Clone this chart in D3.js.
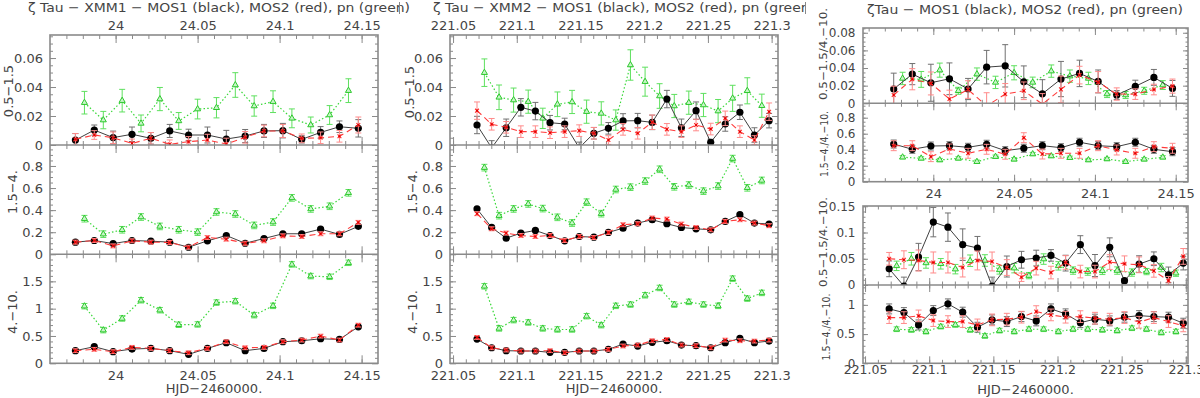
<!DOCTYPE html>
<html>
<head>
<meta charset="utf-8">
<script src="https://cdn.jsdelivr.net/npm/d3@7"></script>
<style>
  body { margin: 0; background: #fff; }
  svg text { font-family: "DejaVu Sans", sans-serif; fill: #444; }
</style>
</head>
<body>
<svg id="chart" width="1200" height="398"></svg>
<script>
// ---- times (HJD - 2460000) ----
const t1 = [23.9755, 23.987, 23.9985, 24.01, 24.0215, 24.033, 24.0445, 24.056, 24.0675, 24.079, 24.0905, 24.102, 24.1135, 24.125, 24.1365, 24.148];
const t1pn = [23.981, 23.9925, 24.004, 24.0155, 24.027, 24.0385, 24.05, 24.0615, 24.073, 24.0845, 24.096, 24.1075, 24.119, 24.1305, 24.142];
const t2 = [221.0688, 221.0803, 221.0917, 221.1032, 221.1146, 221.1261, 221.1376, 221.149, 221.1605, 221.1719, 221.1834, 221.1949, 221.2063, 221.2178, 221.2292, 221.2407, 221.2522, 221.2636, 221.2751, 221.2865, 221.298];
const t2pn = [221.0746, 221.0861, 221.0975, 221.109, 221.1204, 221.1319, 221.1434, 221.1548, 221.1663, 221.1777, 221.1892, 221.2007, 221.2121, 221.2236, 221.235, 221.2465, 221.258, 221.2694, 221.2809, 221.2923];

// ---- XMM1 count rates ----
const xmm1_soft_mos1 = [0.0034, 0.0103, 0.0051, 0.0074, 0.0046, 0.0097, 0.0069, 0.0069, 0.0041, 0.0062, 0.0097, 0.0099, 0.0039, 0.0087, 0.0126, 0.0115];
const xmm1_soft_mos1_err = [0.0045, 0.0035, 0.0045, 0.005, 0.004, 0.0045, 0.004, 0.0055, 0.006, 0.0045, 0.0045, 0.005, 0.0025, 0.004, 0.004, 0.006];
const xmm1_soft_mos2 = [0.0039, 0.0069, 0.005, 0.0011, 0.0046, 0.0005, 0.0023, 0.0034, 0.0007, 0.0053, 0.0097, 0.0097, 0.0046, 0.005, 0.006, 0.0138];
const xmm1_soft_mos2_err = [0.004, 0.003, 0.004, 0.003, 0.004, 0.003, 0.0035, 0.004, 0.004, 0.004, 0.004, 0.0045, 0.003, 0.004, 0.004, 0.0055];
const xmm1_soft_pn = [0.0292, 0.0172, 0.0306, 0.0149, 0.0317, 0.0166, 0.0248, 0.0257, 0.0414, 0.0269, 0.0299, 0.0184, 0.0138, 0.0207, 0.0375];
const xmm1_soft_pn_err = [0.0078, 0.006, 0.0078, 0.0058, 0.008, 0.0058, 0.0068, 0.007, 0.0085, 0.007, 0.0075, 0.0065, 0.0055, 0.0065, 0.0082];

const xmm1_med_mos1 = [0.11, 0.125, 0.097, 0.125, 0.119, 0.11, 0.064, 0.122, 0.17, 0.1, 0.143, 0.186, 0.186, 0.228, 0.18, 0.253];
const xmm1_med_mos2 = [0.11, 0.125, 0.076, 0.122, 0.11, 0.107, 0.064, 0.152, 0.137, 0.1, 0.122, 0.167, 0.161, 0.186, 0.186, 0.289];
const xmm1_med_pn = [0.3225, 0.1825, 0.2221, 0.3377, 0.2525, 0.2221, 0.2008, 0.3833, 0.365, 0.2616, 0.292, 0.511, 0.4107, 0.435, 0.5567];

const xmm1_hard_mos1 = [0.231, 0.304, 0.213, 0.261, 0.273, 0.231, 0.164, 0.273, 0.377, 0.231, 0.273, 0.395, 0.413, 0.449, 0.437, 0.668];
const xmm1_hard_mos2 = [0.231, 0.255, 0.213, 0.292, 0.273, 0.231, 0.194, 0.273, 0.395, 0.285, 0.292, 0.395, 0.425, 0.498, 0.425, 0.698];
const xmm1_hard_pn = [1.045, 0.607, 0.82, 1.154, 0.972, 0.705, 0.711, 1.111, 1.136, 0.881, 1.051, 1.81, 1.596, 1.583, 1.839];

// ---- XMM1 hardness ratios ----
const xmm1_r1_mos1 = [0.0162, 0.0331, 0.0233, 0.0278, 0.0162, 0.041, 0.0425, 0.0244, 0.0108, 0.0275, 0.0339, 0.0248, 0.0094, 0.0192, 0.0294, 0.0169];
const xmm1_r1_mos1_err = [0.018, 0.012, 0.021, 0.018, 0.012, 0.019, 0.024, 0.018, 0.016, 0.02, 0.015, 0.013, 0.005, 0.007, 0.009, 0.009];
const xmm1_r1_mos2 = [0.0094, 0.0273, 0.0225, 0.0049, 0.0156, -0.003, 0.0104, 0.0142, -0.001, 0.0158, 0.032, 0.024, 0.0105, 0.0104, 0.0156, 0.0195];
const xmm1_r1_mos2_err = [0.01, 0.012, 0.013, 0.01, 0.01, 0.015, 0.012, 0.01, 0.012, 0.015, 0.01, 0.012, 0.007, 0.006, 0.006, 0.008];
const xmm1_r1_pn = [0.0282, 0.0271, 0.0376, 0.0142, 0.0331, 0.0237, 0.0346, 0.0237, 0.0365, 0.0308, 0.0282, 0.0105, 0.0094, 0.0142, 0.0207];
const xmm1_r1_pn_err = [0.007, 0.009, 0.008, 0.004, 0.007, 0.007, 0.008, 0.006, 0.007, 0.007, 0.007, 0.004, 0.004, 0.004, 0.005];

const xmm1_r2_mos1 = [0.471, 0.405, 0.446, 0.45, 0.43, 0.468, 0.388, 0.418, 0.45, 0.425, 0.493, 0.45, 0.438, 0.493, 0.405, 0.375];
const xmm1_r2_mos2 = [0.45, 0.45, 0.313, 0.409, 0.355, 0.405, 0.343, 0.55, 0.346, 0.355, 0.355, 0.45, 0.396, 0.355, 0.438, 0.418];
const xmm1_r2_pn = [0.306, 0.292, 0.271, 0.292, 0.25, 0.313, 0.28, 0.346, 0.321, 0.3, 0.271, 0.284, 0.25, 0.28, 0.305];

// ---- XMM2 count rates ----
const xmm2_soft_mos1 = [0.0138, -0.002, 0.0119, 0.026, 0.0234, 0.0154, 0.0145, -0.002, 0.0081, 0.0115, 0.0166, 0.0168, 0.0156, 0.0317, 0.0119, 0.0237, 0.0019, 0.0145, 0.0226, 0.0069, 0.0168];
const xmm2_soft_mos1_err = [0.006, 0.005, 0.006, 0.006, 0.006, 0.005, 0.004, 0.004, 0.004, 0.004, 0.005, 0.005, 0.005, 0.006, 0.006, 0.006, 0.002, 0.005, 0.005, 0.005, 0.005];
const xmm2_soft_mos2 = [0.0237, 0.0143, 0.0122, 0.0092, 0.0092, 0.0085, 0.0092, 0.0099, 0.0081, 0.0034, 0.0108, 0.0081, 0.0157, 0.0108, 0.0092, 0.0138, 0.011, 0.0184, 0.0092, 0.0034, 0.023];
const xmm2_soft_mos2_err = [0.006, 0.004, 0.004, 0.004, 0.004, 0.004, 0.004, 0.004, 0.004, 0.003, 0.004, 0.004, 0.005, 0.004, 0.004, 0.004, 0.004, 0.005, 0.004, 0.003, 0.006];
const xmm2_soft_pn = [0.0499, 0.0329, 0.031, 0.0299, 0.0184, 0.0281, 0.0297, 0.023, 0.0218, 0.0172, 0.0552, 0.0437, 0.0338, 0.0269, 0.0292, 0.0276, 0.0234, 0.0322, 0.0374, 0.0271];
const xmm2_soft_pn_err = [0.0095, 0.0085, 0.0083, 0.008, 0.007, 0.0085, 0.008, 0.008, 0.008, 0.007, 0.0105, 0.01, 0.0085, 0.008, 0.008, 0.008, 0.008, 0.009, 0.009, 0.008];

const xmm2_med_mos1 = [0.411, 0.243, 0.146, 0.192, 0.216, 0.17, 0.122, 0.161, 0.155, 0.198, 0.237, 0.283, 0.313, 0.277, 0.243, 0.231, 0.222, 0.298, 0.359, 0.283, 0.274];
const xmm2_med_mos2 = [0.368, 0.231, 0.192, 0.17, 0.161, 0.17, 0.125, 0.161, 0.152, 0.198, 0.268, 0.277, 0.329, 0.319, 0.274, 0.243, 0.222, 0.298, 0.313, 0.283, 0.259];
const xmm2_med_pn = [0.785, 0.35, 0.411, 0.456, 0.414, 0.335, 0.283, 0.472, 0.368, 0.587, 0.608, 0.663, 0.77, 0.611, 0.627, 0.572, 0.618, 0.867, 0.602, 0.669];

const xmm2_hard_mos1 = [0.443, 0.285, 0.231, 0.225, 0.225, 0.2, 0.2, 0.225, 0.225, 0.255, 0.352, 0.316, 0.383, 0.413, 0.334, 0.322, 0.285, 0.377, 0.456, 0.377, 0.407];
const xmm2_hard_mos2 = [0.474, 0.285, 0.243, 0.225, 0.225, 0.231, 0.194, 0.225, 0.225, 0.255, 0.316, 0.334, 0.413, 0.437, 0.334, 0.322, 0.285, 0.425, 0.413, 0.407, 0.425];
const xmm2_hard_pn = [1.409, 0.638, 0.79, 0.747, 0.638, 0.619, 0.619, 0.862, 0.698, 1.051, 1.075, 1.245, 1.379, 1.075, 1.124, 1.075, 1.051, 1.549, 1.184, 1.288];

// ---- XMM2 hardness ratios ----
const xmm2_r1_mos1 = [0.0308, -0.002, 0.0533, 0.1198, 0.1102, 0.0769, 0.0705, -0.002, 0.0352, 0.0481, 0.0513, 0.0564, 0.0417, 0.0769, 0.0371, 0.0718, 0.0083, 0.0397, 0.05, 0.0192, 0.0417];
const xmm2_r1_mos1_err = [0.015, 0.017, 0.026, 0.028, 0.027, 0.03, 0.022, 0.017, 0.02, 0.016, 0.015, 0.011, 0.015, 0.017, 0.021, 0.018, 0.004, 0.016, 0.013, 0.015, 0.013];
const xmm2_r1_mos2 = [0.05, 0.0481, 0.0467, 0.0429, 0.0429, 0.0333, 0.0467, 0.0448, 0.0333, 0.0148, 0.0321, 0.0237, 0.0429, 0.0256, 0.0256, 0.0437, 0.0404, 0.0385, 0.0269, 0.0083, 0.0545];
const xmm2_r1_mos2_err = [0.012, 0.017, 0.02, 0.02, 0.02, 0.018, 0.018, 0.018, 0.015, 0.008, 0.013, 0.012, 0.013, 0.012, 0.012, 0.014, 0.015, 0.015, 0.012, 0.008, 0.015];
const xmm2_r1_pn = [0.0365, 0.05, 0.042, 0.0404, 0.0302, 0.0462, 0.0467, 0.0288, 0.0321, 0.0179, 0.0494, 0.0365, 0.0275, 0.0256, 0.0269, 0.0275, 0.0237, 0.0256, 0.0333, 0.0225];
const xmm2_r1_pn_err = [0.009, 0.012, 0.01, 0.01, 0.009, 0.011, 0.011, 0.008, 0.009, 0.006, 0.01, 0.008, 0.007, 0.007, 0.007, 0.007, 0.007, 0.006, 0.008, 0.006];

const xmm2_r2_mos1 = [0.931, 0.868, 0.657, 0.902, 1.017, 0.875, 0.617, 0.743, 0.714, 0.799, 0.726, 0.931, 0.846, 0.696, 0.755, 0.726, 0.789, 0.816, 0.799, 0.789, 0.686];
const xmm2_r2_mos2 = [0.782, 0.782, 0.811, 0.731, 0.714, 0.714, 0.657, 0.743, 0.755, 0.789, 0.885, 0.828, 0.789, 0.799, 0.772, 0.755, 0.782, 0.703, 0.782, 0.714, 0.64];
const xmm2_r2_pn = [0.583, 0.571, 0.542, 0.628, 0.657, 0.571, 0.468, 0.559, 0.542, 0.583, 0.583, 0.542, 0.583, 0.583, 0.571, 0.559, 0.6, 0.583, 0.525, 0.542];

// typical error sizes where they hardly change (mos1, mos2, pn)
const errMed = [0.01, 0.018, 0.03];
const errHard = [0.02, 0.035, 0.05];
const errR2_1 = [0.05, 0.062, 0.02];
const errR2_2 = [0.085, 0.1, 0.04];

// ---- tick labels ----
const xTicks1 = [24, 24.05, 24.1, 24.15];
const xTicks2 = [221.05, 221.1, 221.15, 221.2, 221.25, 221.3];
const yTicksSoft = [0, 0.02, 0.04, 0.06, 0.08];
const yTicksMed = [0, 0.2, 0.4, 0.6, 0.8];
const yTicksHard = [0, 0.5, 1, 1.5];
const yTicksR1b = [0, 0.05, 0.1, 0.15];
const yTicksR2b = [0, 0.5, 1];

const titles = [
  "ζ Tau − XMM1 − MOS1 (black), MOS2 (red), pn (green)",
  "ζ Tau − XMM2 − MOS1 (black), MOS2 (red), pn (green)",
  "ζTau − MOS1 (black), MOS2 (red), pn (green)"
];
const xTitle = "HJD−2460000.";

// ---------------------------------------------------------------
const svg = d3.select("#chart");
const defs = svg.append("defs");
const fmt = d3.format("~f");
let clipN = 0;

function clip(x, y, w, h) {
  const id = "clip" + (clipN++);
  defs.append("clipPath").attr("id", id)
    .append("rect").attr("x", x).attr("y", y).attr("width", w).attr("height", h);
  return `url(#${id})`;
}

function minorTicks(dom, step) {
  return d3.range(Math.ceil(dom[0] / step - 1e-6), Math.floor(dom[1] / step + 1e-6) + 1)
    .map(i => +(i * step).toFixed(6))
    .filter(v => v > dom[0] + 1e-9 && v < dom[1] - 1e-9);
}

function axisGroup(parent, gen, tx, ty, fs, pad, labels) {
  const g = parent.append("g").attr("transform", `translate(${tx},${ty})`)
    .call(gen.tickSizeOuter(0).tickPadding(pad || 3).tickFormat(labels ? fmt : ""));
  g.select(".domain").remove();
  g.attr("font-family", null).attr("font-size", fs).attr("color", "#8a8a8a");
  g.selectAll("line").attr("stroke-width", 1);
  g.selectAll("text").attr("fill", "#444");
  return g;
}

const styles = {
  m1: { line: "#404040", dash: null, err: "#707070", lw: 1 },
  m2: { line: "#ff3b3b", dash: "6,4", err: "#ff8a8a", lw: 1.1 },
  pn: { line: "#3ad83a", dash: "1.5,2.2", err: "#5ee05e", lw: 1.2 }
};

function drawSeries(g, xs, ys, s, clipUrl) {
  const [t, v, e, kind] = s;
  const st = styles[kind];
  const pts = t.map((d, i) => ({ x: d, y: v[i], e: Array.isArray(e) ? e[i] : e }));
  const cg = g.append("g").attr("clip-path", clipUrl);
  const eb = cg.append("g").attr("stroke", st.err).attr("stroke-width", 1);
  pts.forEach(p => {
    const x = xs(p.x), ya = ys(p.y + p.e), yb = ys(p.y - p.e);
    eb.append("line").attr("x1", x).attr("x2", x).attr("y1", ya).attr("y2", yb);
    eb.append("line").attr("x1", x - 3).attr("x2", x + 3).attr("y1", ya).attr("y2", ya);
    eb.append("line").attr("x1", x - 3).attr("x2", x + 3).attr("y1", yb).attr("y2", yb);
  });
  cg.append("path").datum(pts)
    .attr("fill", "none").attr("stroke", st.line).attr("stroke-width", st.lw)
    .attr("stroke-dasharray", st.dash)
    .attr("d", d3.line().x(p => xs(p.x)).y(p => ys(p.y)));
  const mk = cg.selectAll("g.mk").data(pts).join("g")
    .attr("transform", p => `translate(${xs(p.x)},${ys(p.y)})`);
  if (kind === "m1") {
    mk.append("circle").attr("r", 3.6).attr("fill", "#000");
  } else if (kind === "m2") {
    mk.append("path").attr("d", "M-1.9,-1.9L1.9,1.9M-1.9,1.9L1.9,-1.9")
      .attr("stroke", "#ff2a2a").attr("stroke-width", 1.1);
    mk.append("circle").attr("r", 1.1).attr("fill", "#e00000");
  } else {
    mk.append("path").attr("d", d3.symbol(d3.symbolTriangle, 16)())
      .attr("fill", "#c8f5c8").attr("stroke", "#2cc82c").attr("stroke-width", 1);
  }
}

function drawColumn(col) {
  const xs = d3.scaleLinear().domain(col.xDom).range([col.x0, col.x1]);
  const xMinor = minorTicks(col.xDom, 0.01);
  const top = col.subs[0].y0, bot = col.subs[col.subs.length - 1].y1;
  const g = svg.append("g");

  col.subs.forEach((sub, k) => {
    const ys = d3.scaleLinear().domain(sub.yDom).range([sub.y1, sub.y0]);
    const yMinor = minorTicks(sub.yDom, sub.yMinor);
    const yMaj = sub.yMajor.filter(v => v <= sub.yDom[1] + 1e-9);
    const yLab = yMaj.filter(v => v < sub.yDom[1] - 1e-9 || sub.topLabel);
    const ax = g.append("g");
    // x ticks on top and bottom edge of every sub panel
    axisGroup(ax, d3.axisBottom(xs).tickValues(xMinor).tickSize(-col.tm), 0, sub.y1, col.xfs);
    axisGroup(ax, d3.axisTop(xs).tickValues(xMinor).tickSize(-col.tm), 0, sub.y0, col.xfs);
    const lastSub = k === col.subs.length - 1;
    axisGroup(ax, d3.axisBottom(xs).tickValues(col.xMajor).tickSize(-col.tM), 0, sub.y1, col.xfs,
      col.botPad, lastSub);
    axisGroup(ax, d3.axisTop(xs).tickValues(col.xMajor).tickSize(-col.tM), 0, sub.y0, col.xfs,
      col.topPad, k === 0 && col.topPad != null);
    // y ticks left and right
    axisGroup(ax, d3.axisLeft(ys).tickValues(yMinor).tickSize(-col.ym), col.x0, 0, col.yfs);
    axisGroup(ax, d3.axisRight(ys).tickValues(yMinor).tickSize(-col.ym), col.x1, 0, col.yfs);
    axisGroup(ax, d3.axisLeft(ys).tickValues(yMaj).tickSize(-col.yM), col.x0, 0, col.yfs);
    axisGroup(ax, d3.axisRight(ys).tickValues(yMaj).tickSize(-col.yM), col.x1, 0, col.yfs);
    axisGroup(ax, d3.axisLeft(ys).tickValues(yLab).tickSize(0), col.x0, 0, col.yfs, col.yPad, true);

    // y title
    const lt = g.append("text")
      .attr("transform", `translate(${sub.lx},${sub.ly}) rotate(-90)`)
      .attr("text-anchor", "middle").attr("font-size", sub.lfs).text(sub.label);
    if (sub.llen) lt.attr("textLength", sub.llen).attr("lengthAdjust", "spacingAndGlyphs");

    const cu = clip(col.x0, sub.y0, col.x1 - col.x0, sub.y1 - sub.y0);
    sub.series.forEach(s => drawSeries(g, xs, ys, s, cu));
  });

  // frame
  g.append("rect").attr("x", col.x0).attr("y", top)
    .attr("width", col.x1 - col.x0).attr("height", bot - top)
    .attr("fill", "none").attr("stroke", "#8a8a8a").attr("stroke-width", 1.6);
  col.subs.slice(1).forEach(sub => {
    g.append("line").attr("x1", col.x0).attr("x2", col.x1).attr("y1", sub.y0).attr("y2", sub.y0)
      .attr("stroke", "#8a8a8a").attr("stroke-width", 1.6);
  });
}

function drawTitle(text, x, y, len, clipW) {
  const cu = clipW ? clip(x - 20, 0, clipW, 20) : null;
  svg.append("text").attr("x", x).attr("y", y).attr("font-size", 13)
    .attr("textLength", len).attr("lengthAdjust", "spacingAndGlyphs")
    .attr("clip-path", cu).text(text);
}

// ---- layout ----
const leftCol = {
  x0: 50, x1: 378, xDom: [23.96, 24.16], xMajor: xTicks1, tM: 8, tm: 4, yM: 6, ym: 3,
  xfs: 13, yfs: 13, topPad: 5, botPad: 7.5, yPad: 7,
  subs: [
    { y0: 35, y1: 145, yDom: [0, 0.0759], yMajor: yTicksSoft, yMinor: 0.005, label: "0.5−1.5", lx: 12.5, ly: 91, lfs: 13,
      series: [[t1pn, xmm1_soft_pn, xmm1_soft_pn_err, "pn"], [t1, xmm1_soft_mos1, xmm1_soft_mos1_err, "m1"], [t1, xmm1_soft_mos2, xmm1_soft_mos2_err, "m2"]] },
    { y0: 145, y1: 254.3, yDom: [0, 0.99], yMajor: yTicksMed, yMinor: 0.05, label: "1.5−4.", lx: 16.5, ly: 192, lfs: 13,
      series: [[t1pn, xmm1_med_pn, errMed[2], "pn"], [t1, xmm1_med_mos1, errMed[0], "m1"], [t1, xmm1_med_mos2, errMed[1], "m2"]] },
    { y0: 254.3, y1: 363.3, yDom: [0, 1.995], yMajor: yTicksHard, yMinor: 0.1, label: "4.−10.", lx: 17, ly: 312, lfs: 13,
      series: [[t1pn, xmm1_hard_pn, errHard[2], "pn"], [t1, xmm1_hard_mos1, errHard[0], "m1"], [t1, xmm1_hard_mos2, errHard[1], "m2"]] }
  ]
};

const midCol = {
  x0: 450, x1: 778, xDom: [221.0476, 221.305], xMajor: xTicks2, tM: 8, tm: 4, yM: 6, ym: 3,
  xfs: 13, yfs: 13, topPad: 5, botPad: 7.5, yPad: 7,
  subs: [
    { y0: 35, y1: 145, yDom: [0, 0.0759], yMajor: yTicksSoft, yMinor: 0.005, label: "0.5−1.5", lx: 413.5, ly: 92, lfs: 13,
      series: [[t2pn, xmm2_soft_pn, xmm2_soft_pn_err, "pn"], [t2, xmm2_soft_mos1, xmm2_soft_mos1_err, "m1"], [t2, xmm2_soft_mos2, xmm2_soft_mos2_err, "m2"]] },
    { y0: 145, y1: 254.3, yDom: [0, 0.99], yMajor: yTicksMed, yMinor: 0.05, label: "1.5−4.", lx: 416.5, ly: 192, lfs: 13,
      series: [[t2pn, xmm2_med_pn, errMed[2], "pn"], [t2, xmm2_med_mos1, errMed[0], "m1"], [t2, xmm2_med_mos2, errMed[1], "m2"]] },
    { y0: 254.3, y1: 363.3, yDom: [0, 1.995], yMajor: yTicksHard, yMinor: 0.1, label: "4.−10.", lx: 417, ly: 312, lfs: 13,
      series: [[t2pn, xmm2_hard_pn, errHard[2], "pn"], [t2, xmm2_hard_mos1, errHard[0], "m1"], [t2, xmm2_hard_mos2, errHard[1], "m2"]] }
  ]
};

const rightTop = {
  x0: 863, x1: 1188, xDom: [23.9565, 24.1576], xMajor: xTicks1, tM: 7, tm: 3.5, yM: 5, ym: 2.5,
  xfs: 13, yfs: 12, topPad: null, botPad: 7, yPad: 7.5,
  subs: [
    { y0: 28, y1: 103.3, yDom: [0, 0.0854], yMajor: yTicksSoft, yMinor: 0.005, label: "0.5−1.5/4.−10.", lx: 827, ly: 54, lfs: 11, llen: 92,
      series: [[t1pn, xmm1_r1_pn, xmm1_r1_pn_err, "pn"], [t1, xmm1_r1_mos1, xmm1_r1_mos1_err, "m1"], [t1, xmm1_r1_mos2, xmm1_r1_mos2_err, "m2"]] },
    { y0: 103.3, y1: 181.7, yDom: [0, 0.98], yMajor: yTicksMed, yMinor: 0.05, label: "1.5−4./4.−10.", lx: 828, ly: 144, lfs: 11, llen: 66,
      series: [[t1pn, xmm1_r2_pn, errR2_1[2], "pn"], [t1, xmm1_r2_mos1, errR2_1[0], "m1"], [t1, xmm1_r2_mos2, errR2_1[1], "m2"]] }
  ]
};

const rightBot = {
  x0: 863, x1: 1188, xDom: [221.0484, 221.3017], xMajor: xTicks2, tM: 7, tm: 3.5, yM: 5, ym: 2.5,
  xfs: 12.5, yfs: 12, topPad: null, botPad: 1.5, yPad: 7.5,
  subs: [
    { y0: 206, y1: 285, yDom: [0, 0.1505], yMajor: yTicksR1b, yMinor: 0.01, topLabel: true, label: "0.5−1.5/4.−10.", lx: 827, ly: 242, lfs: 11, llen: 90,
      series: [[t2pn, xmm2_r1_pn, xmm2_r1_pn_err, "pn"], [t2, xmm2_r1_mos1, xmm2_r1_mos1_err, "m1"], [t2, xmm2_r1_mos2, xmm2_r1_mos2_err, "m2"]] },
    { y0: 285, y1: 363.3, yDom: [0, 1.34], yMajor: yTicksR2b, yMinor: 0.1, label: "1.5−4./4.−10.", lx: 830, ly: 327, lfs: 11, llen: 67,
      series: [[t2pn, xmm2_r2_pn, errR2_2[2], "pn"], [t2, xmm2_r2_mos1, errR2_2[0], "m1"], [t2, xmm2_r2_mos2, errR2_2[1], "m2"]] }
  ]
};

[leftCol, midCol, rightTop, rightBot].forEach(drawColumn);

// titles (first two are cut at the image edge in the original)
drawTitle(titles[0], 28, 12, 382, 419);
drawTitle(titles[1], 433, 12, 382, 392);
drawTitle(titles[2], 867, 14, 316, null);
svg.append("line").attr("x1", 399.5).attr("x2", 399.5).attr("y1", 2).attr("y2", 14).attr("stroke", "#888");
svg.append("line").attr("x1", 805.5).attr("x2", 805.5).attr("y1", 2).attr("y2", 14).attr("stroke", "#888");

// x titles
[[214, 393], [614, 393], [1025.5, 394]].forEach(([x, y]) => {
  svg.append("text").attr("x", x).attr("y", y).attr("text-anchor", "middle")
    .attr("font-size", 13).text(xTitle);
});
</script>
</body>
</html>
